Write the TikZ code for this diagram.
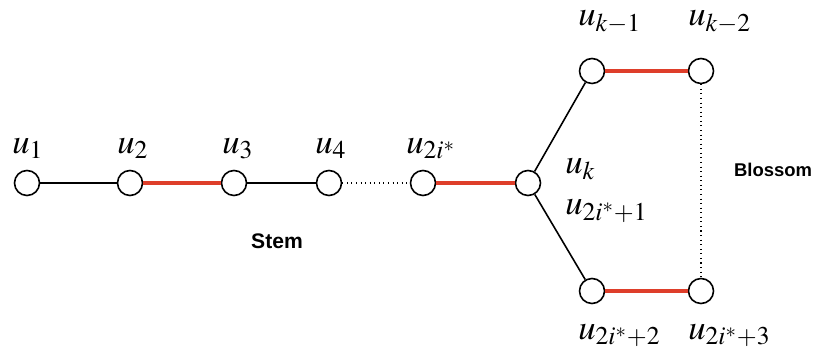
\documentclass[tikz,border=0pt]{standalone}
\usepackage{amsmath}
\usepackage{mathptmx}
\usepackage{fontspec}
\setsansfont{Liberation Sans}
\usepackage{xcolor}
\definecolor{matchred}{RGB}{222,62,42}
\usepackage{tikz}
\usetikzlibrary{positioning, calc}
\tikzset{
  vtx/.style={circle, draw=black, fill=white, line width=0.9pt, minimum size=0.5cm, inner sep=0pt},
  plain/.style={draw=black, line width=0.9pt},
  matched/.style={draw=matchred, line width=2.1pt},
  gap/.style={draw=black, line width=0.6pt, dash pattern=on 0.6pt off 2pt},
  vlabel/.style={font=\fontsize{19.7}{23}\selectfont, inner sep=0pt, anchor=base west},
  region/.style={font=\sffamily\bfseries, inner sep=0pt}
}

\begin{document}
\begin{tikzpicture}
  \useasboundingbox (0,0) rectangle (16.46,7.16);
  % stem
  \node[vtx] (u1) at (0.54,3.50) {};
  \node[vtx] (u2) at (2.60,3.50) {};
  \node[vtx] (u3) at (4.68,3.50) {};
  \node[vtx] (u4) at (6.58,3.50) {};
  \node[vtx] (u2i) at (8.46,3.50) {};
  \node[vtx] (uk) at (10.56,3.50) {};
  % blossom
  \node[vtx] (ukm1) at (11.84,5.74) {};
  \node[vtx] (ukm2) at (14.02,5.74) {};
  \node[vtx] (u2i2) at (11.84,1.34) {};
  \node[vtx] (u2i3) at (14.02,1.34) {};

  \draw[plain] (u1) -- (u2);
  \draw[matched] (u2) -- (u3);
  \draw[plain] (u3) -- (u4);
  \draw[gap] (u4) -- (u2i);
  \draw[matched] (u2i) -- (uk);
  \draw[plain] (uk) -- (ukm1);
  \draw[plain] (uk) -- (u2i2);
  \draw[matched] (ukm1) -- (ukm2);
  \draw[matched] (u2i2) -- (u2i3);
  \draw[gap] (ukm2) -- (u2i3);

  % labels
  \node[vlabel] (l1) at ($(u1)+(-0.30,0.59)$) {$u_1$};
  \node[vlabel] (l2) at ($(u2)+(-0.26,0.59)$) {$u_2$};
  \node[vlabel] (l3) at ($(u3)+(-0.24,0.59)$) {$u_3$};
  \node[vlabel] (l4) at ($(u4)+(-0.28,0.59)$) {$u_4$};
  \node[vlabel] (l2i) at ($(u2i)+(-0.34,0.59)$) {$u_{2i^*}$};
  \node[vlabel] (lk) at ($(uk)+(0.74,0.18)$) {$u_k$};
  \node[vlabel] (l2i1) at ($(uk)+(0.74,-0.64)$) {$u_{2i^*+1}$};
  \node[vlabel] (lkm1) at ($(ukm1)+(-0.28,0.91)$) {$u_{k-1}$};
  \node[vlabel] (lkm2) at ($(ukm2)+(-0.26,0.91)$) {$u_{k-2}$};
  \node[vlabel] (l2i2) at ($(u2i2)+(-0.28,-0.97)$) {$u_{2i^*+2}$};
  \node[vlabel] (l2i3) at ($(u2i3)+(-0.26,-0.97)$) {$u_{2i^*+3}$};

  \node[region, font=\sffamily\bfseries\fontsize{12}{14}\selectfont] (stem) at (5.54,2.34) {Stem};
  \node[region, font=\sffamily\bfseries\fontsize{10.5}{12}\selectfont] (blossom) at (15.46,3.76) {Blossom};
\end{tikzpicture}
\end{document}
